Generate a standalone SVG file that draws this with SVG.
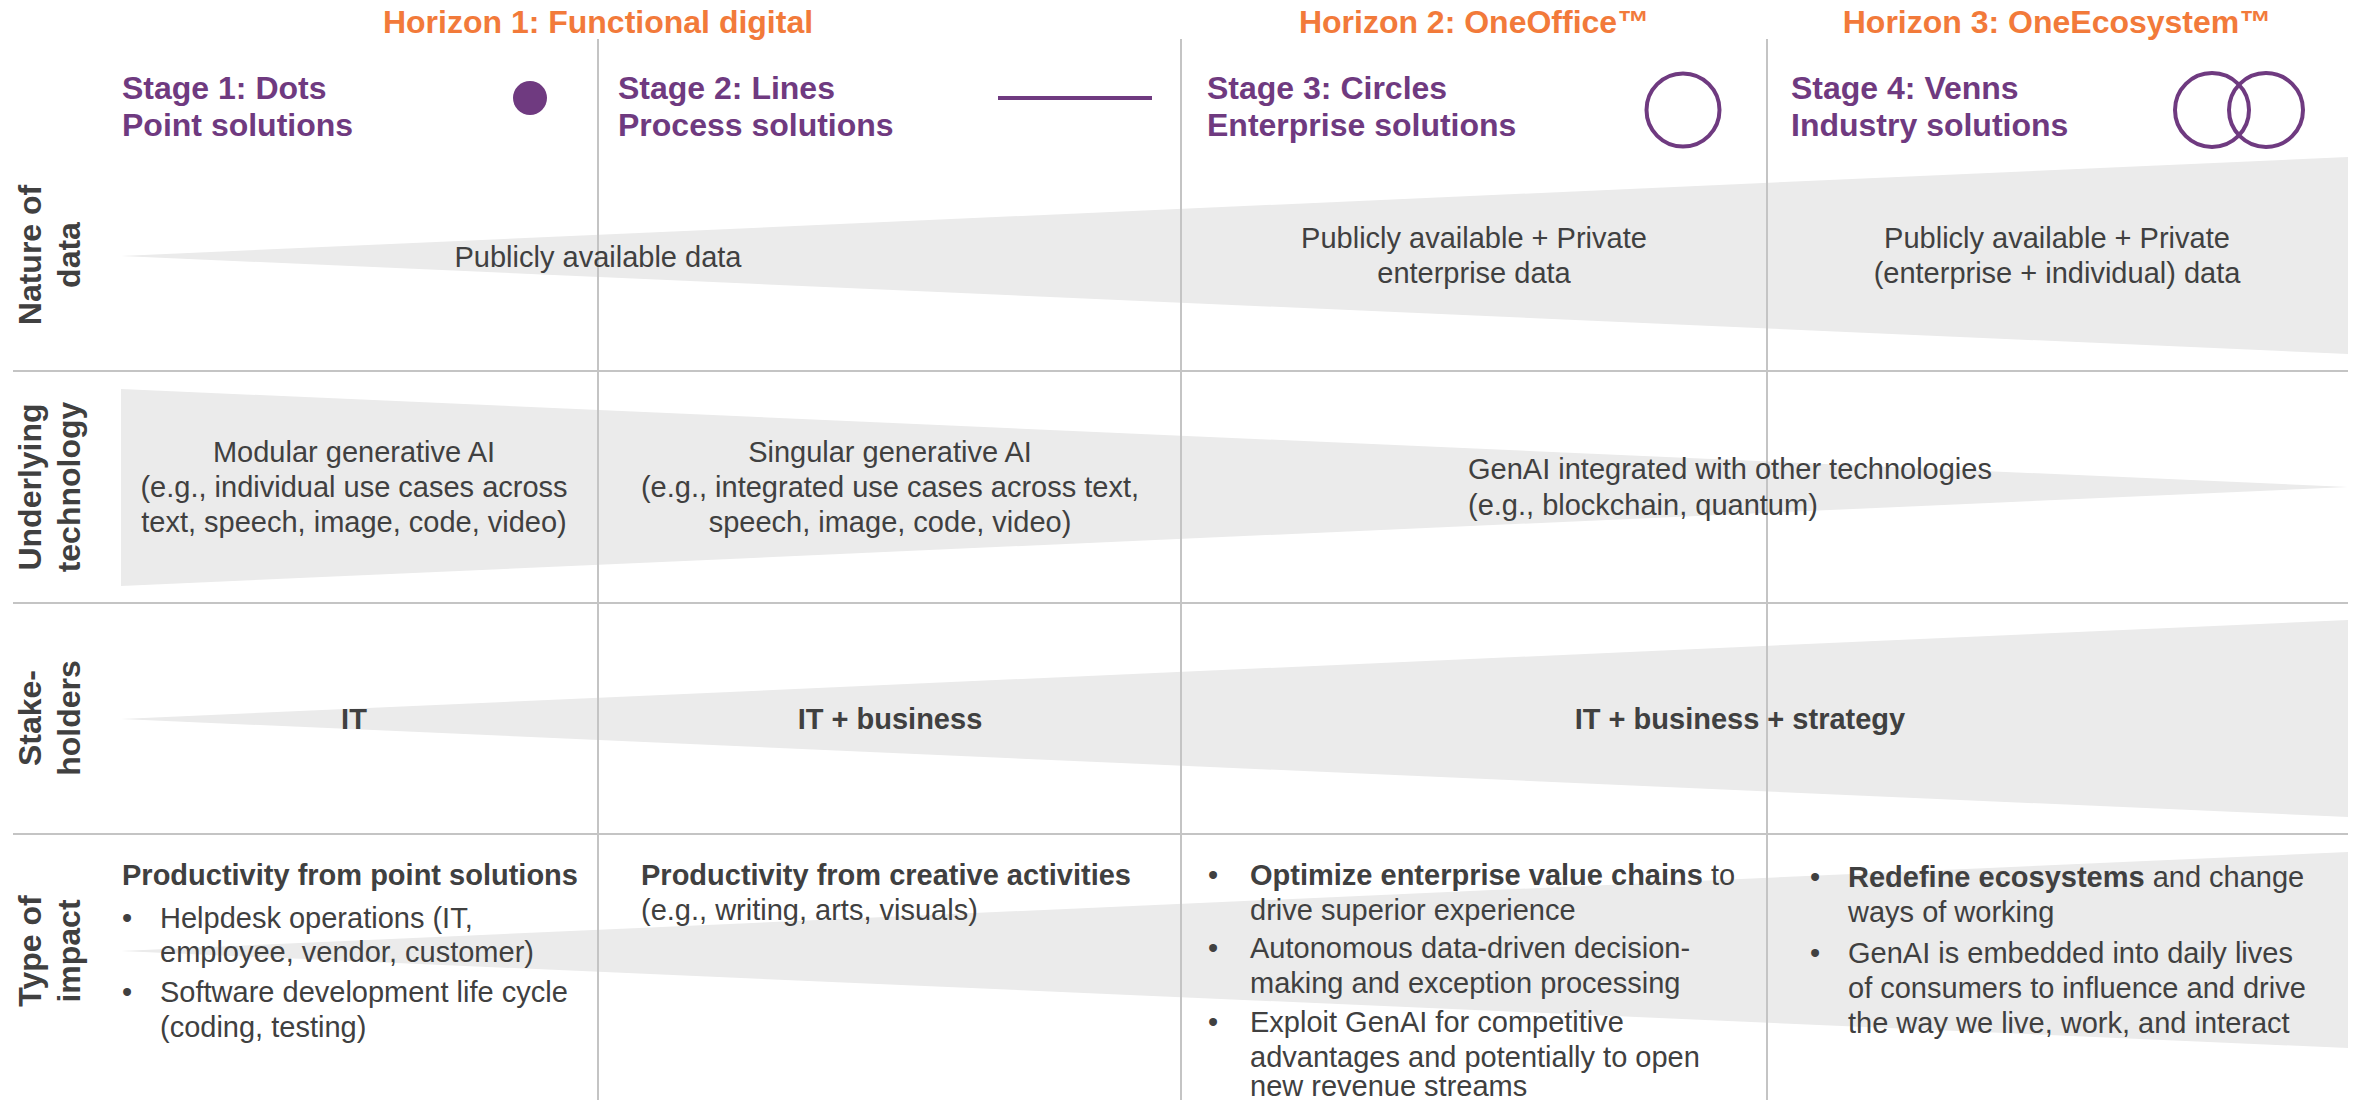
<svg xmlns="http://www.w3.org/2000/svg" width="2362" height="1100" viewBox="0 0 2362 1100">
<style>
text{font-family:"Liberation Sans",Arial,Helvetica,sans-serif;fill:#404040;font-size:29px}
.hz{font-size:32px;font-weight:bold;fill:#F27A3A;text-anchor:middle}
.st{font-size:32px;font-weight:bold;fill:#6F3A80}
.rl{font-size:32px;font-weight:bold;fill:#404040;text-anchor:middle}
.c{text-anchor:middle}
.b{font-weight:bold}
.wedge{fill:#EBEBEB}
.grid{stroke:#C4C4C4;stroke-width:2;fill:none}
.sym{stroke:#6F3A80;stroke-width:4;fill:none}
</style>
<rect width="2362" height="1100" fill="#FFFFFF"/>
<g id="wedges">
<polygon class="wedge" points="121,256 2348,157 2348,354"/>
<polygon class="wedge" points="121,389 121,586 2348,487"/>
<polygon class="wedge" points="121,719 2348,620 2348,817"/>
<polygon class="wedge" points="121,951 2348,852 2348,1048"/>
</g>
<g id="connectors">
<line class="grid" x1="598" y1="39" x2="598" y2="1100"/>
<line class="grid" x1="1181" y1="39" x2="1181" y2="1100"/>
<line class="grid" x1="1767" y1="39" x2="1767" y2="1100"/>
<line class="grid" x1="13" y1="371" x2="2348" y2="371" stroke-width="3"/>
<line class="grid" x1="13" y1="603" x2="2348" y2="603" stroke-width="3"/>
<line class="grid" x1="13" y1="834" x2="2348" y2="834" stroke-width="3"/>
</g>
<g id="horizons">
<text class="hz" x="598" y="33">Horizon 1: Functional digital</text>
<text class="hz" x="1474" y="33">Horizon 2: OneOffice™</text>
<text class="hz" x="2057" y="33">Horizon 3: OneEcosystem™</text>
</g>
<g id="stage1">
<text class="st" x="122" y="99">Stage 1: Dots</text>
<text class="st" x="122" y="136">Point solutions</text>
<circle cx="530" cy="98" r="17" fill="#6F3A80"/>
</g>
<g id="stage2">
<text class="st" x="618" y="99">Stage 2: Lines</text>
<text class="st" x="618" y="136">Process solutions</text>
<line class="sym" x1="998" y1="98" x2="1152" y2="98"/>
</g>
<g id="stage3">
<text class="st" x="1207" y="99">Stage 3: Circles</text>
<text class="st" x="1207" y="136">Enterprise solutions</text>
<circle class="sym" cx="1683" cy="110" r="36.5"/>
</g>
<g id="stage4">
<text class="st" x="1791" y="99">Stage 4: Venns</text>
<text class="st" x="1791" y="136">Industry solutions</text>
<circle class="sym" cx="2212" cy="110" r="37"/>
<circle class="sym" cx="2266" cy="110" r="37"/>
</g>
<g id="row-labels">
<text class="rl" transform="translate(41,255) rotate(-90)">Nature of</text>
<text class="rl" transform="translate(80,255) rotate(-90)">data</text>
<text class="rl" transform="translate(41,487) rotate(-90)">Underlying</text>
<text class="rl" transform="translate(80,487) rotate(-90)">technology</text>
<text class="rl" transform="translate(41,718) rotate(-90)">Stake-</text>
<text class="rl" transform="translate(80,718) rotate(-90)">holders</text>
<text class="rl" transform="translate(41,951) rotate(-90)">Type of</text>
<text class="rl" transform="translate(80,951) rotate(-90)">impact</text>
</g>
<g id="row-data">
<text class="c" x="598" y="267">Publicly available data</text>
<text class="c" x="1474" y="248">Publicly available + Private</text>
<text class="c" x="1474" y="283">enterprise data</text>
<text class="c" x="2057" y="248">Publicly available + Private</text>
<text class="c" x="2057" y="283">(enterprise + individual) data</text>
</g>
<g id="row-technology">
<text class="c" x="354" y="462">Modular generative AI</text>
<text class="c" x="354" y="497">(e.g., individual use cases across</text>
<text class="c" x="354" y="532">text, speech, image, code, video)</text>
<text class="c" x="890" y="462">Singular generative AI</text>
<text class="c" x="890" y="497">(e.g., integrated use cases across text,</text>
<text class="c" x="890" y="532">speech, image, code, video)</text>
<text x="1468" y="479">GenAI integrated with other technologies</text>
<text x="1468" y="515">(e.g., blockchain, quantum)</text>
</g>
<g id="row-stakeholders">
<text class="c b" x="354" y="729">IT</text>
<text class="c b" x="890" y="729">IT + business</text>
<text class="c b" x="1740" y="729">IT + business + strategy</text>
</g>
<g id="impact-stage1">
<text class="b" x="122" y="885">Productivity from point solutions</text>
<text x="122" y="928">•</text>
<text x="160" y="928">Helpdesk operations (IT,</text>
<text x="160" y="962">employee, vendor, customer)</text>
<text x="122" y="1002">•</text>
<text x="160" y="1002">Software development life cycle</text>
<text x="160" y="1037">(coding, testing)</text>
</g>
<g id="impact-stage2">
<text class="b" x="641" y="885">Productivity from creative activities</text>
<text x="641" y="920">(e.g., writing, arts, visuals)</text>
</g>
<g id="impact-stage3">
<text x="1208" y="885">•</text>
<text x="1250" y="885"><tspan class="b">Optimize enterprise value chains</tspan> to</text>
<text x="1250" y="920">drive superior experience</text>
<text x="1208" y="958">•</text>
<text x="1250" y="958">Autonomous data-driven decision-</text>
<text x="1250" y="993">making and exception processing</text>
<text x="1208" y="1032">•</text>
<text x="1250" y="1032">Exploit GenAI for competitive</text>
<text x="1250" y="1067">advantages and potentially to open</text>
<text x="1250" y="1096">new revenue streams</text>
</g>
<g id="impact-stage4">
<text x="1810" y="887">•</text>
<text x="1848" y="887"><tspan class="b">Redefine ecosystems</tspan> and change</text>
<text x="1848" y="922">ways of working</text>
<text x="1810" y="963">•</text>
<text x="1848" y="963">GenAI is embedded into daily lives</text>
<text x="1848" y="998">of consumers to influence and drive</text>
<text x="1848" y="1033">the way we live, work, and interact</text>
</g>
</svg>
